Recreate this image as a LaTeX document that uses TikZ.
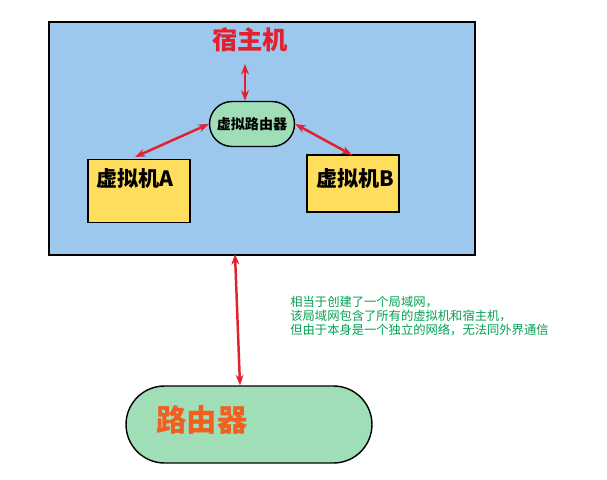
\documentclass[tikz,border=0pt]{standalone}
\usepackage{fontspec}
\newfontfamily\cjk{Noto Sans CJK SC}
\usetikzlibrary{arrows.meta}
\definecolor{hostblue}{HTML}{9DC8EE}
\definecolor{vmgreen}{HTML}{A0DEB8}
\definecolor{vmyellow}{HTML}{FEDE5C}
\definecolor{linkred}{HTML}{E2202E}
\definecolor{noteg}{HTML}{00A050}
\definecolor{routeor}{HTML}{F06020}
\tikzset{
  link/.style={draw=linkred, line width=1.4pt, {Stealth[length=6pt]}-{Stealth[length=6pt]}},
  vm/.style={draw, thick, fill=vmyellow, minimum width=2.04cm, minimum height=1.26cm, inner sep=0pt},
}
\begin{document}
\begin{tikzpicture}[x=0.02cm, y=-0.02cm, font=\cjk]
  \useasboundingbox (0,0) rectangle (607,479);

  \node[name=host, draw, line width=1.2pt, fill=hostblue, minimum width=8.52cm, minimum height=4.66cm, inner sep=0pt] at (262,138.5) {};
  \node[name=hostlbl, text=linkred, font=\cjk\bfseries\Large] at (250,40) {宿主机};

  \node[name=vr, draw, thick, fill=vmgreen, rounded corners=0.45cm, minimum width=1.7cm, minimum height=0.9cm, font=\cjk\bfseries\footnotesize] at (252,124) {虚拟路由器};

  \node[name=a, vm] at (139,191) {};
  \node[name=alb, font=\cjk\bfseries\large] at (135,178) {虚拟机A};
  \node[name=b, vm, minimum width=1.84cm, minimum height=1.14cm] at (353,183.5) {};
  \node[name=blb, font=\cjk\bfseries\large] at (355,178) {虚拟机B};

  \node[name=rt, draw, thick, fill=vmgreen, rounded corners=0.77cm, minimum width=4.92cm, minimum height=1.54cm] at (249,424.5) {};
  \node[name=rtlb, text=routeor, font=\cjk\bfseries\LARGE] at (202,420) {路由器};

  \node[name=note, text=noteg, font=\cjk\scriptsize, align=left, anchor=north west, inner sep=0pt] at (290,296)
    {相当于创建了一个局域网，\\该局域网包含了所有的虚拟机和宿主机，\\但由于本身是一个独立的网络，无法同外界通信};

  \draw[link] (245,64) -- (vr.north -| 245,0);
  \draw[link] (vr.west) -- (135,157);
  \draw[link] (vr.east) -- (352,155);
  \draw[link] (235,254) -- (rt.north -| 240,0);
\end{tikzpicture}
\end{document}
